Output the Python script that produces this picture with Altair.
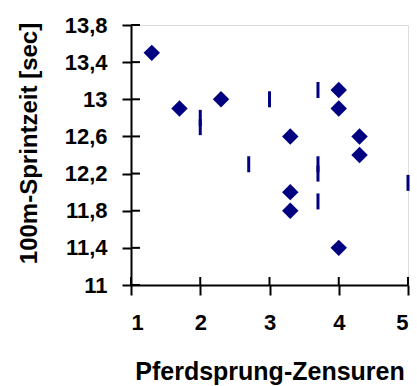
import altair as alt
import pandas as pd

# Series 1: diamonds
dia_x = [1.3, 1.7, 2.3, 3.3, 3.3, 3.3, 4.0, 4.0, 4.0, 4.3, 4.3]
dia_y = [13.5, 12.9, 13.0, 12.6, 12.0, 11.8, 13.1, 12.9, 11.4, 12.6, 12.4]
# Series 2: vertical dash markers
bar_x = [2.0, 2.0, 2.7, 3.0, 3.7, 3.7, 3.7, 3.7, 5.0]
bar_y = [12.8, 12.7, 12.3, 13.0, 13.1, 12.3, 12.2, 11.9, 12.1]
# Axis ticks
x_ticks = [1, 2, 3, 4, 5]
y_ticks = [11, 11.4, 11.8, 12.2, 12.6, 13, 13.4, 13.8]

W, H = 277, 260
FONT = "Liberation Sans"
NAVY = "#000080"

dia = pd.DataFrame({"x": dia_x, "y": dia_y})
bars = pd.DataFrame({"x": bar_x, "y": bar_y})
xt = pd.DataFrame({"v": x_ticks})
yt = pd.DataFrame({"v": y_ticks})

xscale = alt.Scale(domain=[1, 5], nice=False, zero=False)
yscale = alt.Scale(domain=[11, 13.8], nice=False, zero=False)

xaxis = alt.Axis(
    values=x_ticks, tickCount=len(x_ticks), format="d", labelOverlap=False,
    grid=False, domainColor="black", domainWidth=2,
    tickColor="black", tickWidth=2, tickSize=10, labelPadding=17,
    labelFont=FONT, labelFontSize=22, labelFontWeight="bold", labelColor="black",
    title="Pferdsprung-Zensuren", titleFont=FONT, titleFontSize=25,
    titleFontWeight="bold", titleColor="black", titleY=94,
    titleBaseline="alphabetic",
)
yaxis = alt.Axis(
    values=y_ticks, tickCount=len(y_ticks), labelOverlap=False, grid=False,
    domainColor="black", domainWidth=2,
    tickColor="black", tickWidth=2, tickSize=9, labelPadding=15,
    labelExpr="replace(format(datum.value, '.1~f'), '.', ',')",
    labelFont=FONT, labelFontSize=22, labelFontWeight="bold", labelColor="black",
    title="100m-Sprintzeit [sec]", titleFont=FONT, titleFontSize=24,
    titleFontWeight="bold", titleColor="black", titleAngle=270,
    titleX=-102, titleY=118, titleAlign="center", titleBaseline="middle",
)

points = alt.Chart(dia).mark_point(
    shape="diamond", filled=True, size=270, color=NAVY, opacity=1
).encode(
    x=alt.X("x:Q", scale=xscale, axis=xaxis),
    y=alt.Y("y:Q", scale=yscale, axis=yaxis),
)

dashes = alt.Chart(bars).mark_tick(
    orient="vertical", size=16, thickness=3, color=NAVY, opacity=1
).encode(
    x=alt.X("x:Q", scale=xscale),
    y=alt.Y("y:Q", scale=yscale),
)

inner_y = alt.Chart(yt).mark_rule(color="black", strokeWidth=2).encode(
    y=alt.Y("v:Q", scale=yscale), x=alt.value(0), x2=alt.value(9)
)
inner_x = alt.Chart(xt).mark_rule(color="black", strokeWidth=2).encode(
    x=alt.X("v:Q", scale=xscale), y=alt.value(H), y2=alt.value(H - 8)
)

chart = alt.layer(points, dashes, inner_y, inner_x).properties(
    width=W, height=H,
    autosize=alt.AutoSizeParams(type="none"),
    padding={"left": 131, "top": 25, "right": 9, "bottom": 101},
).configure_view(stroke=None).configure(background="white")

chart.save("out.html", embed_options={"renderer": "svg", "actions": False})
